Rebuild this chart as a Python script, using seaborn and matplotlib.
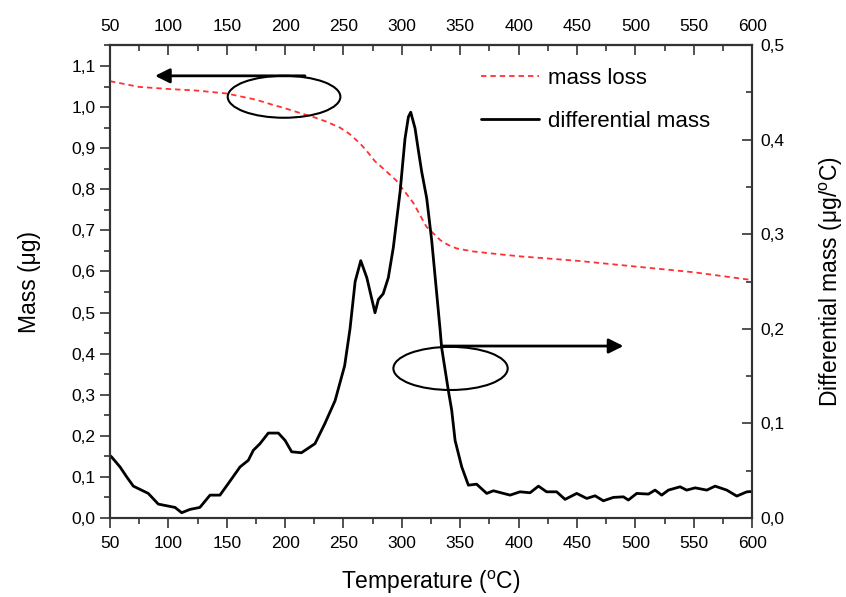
import numpy as np
import pandas as pd
import seaborn as sns
import matplotlib.pyplot as plt
from matplotlib.patches import Ellipse, FancyArrowPatch
from matplotlib.ticker import MultipleLocator, FuncFormatter

sns.set_style('ticks')
plt.rcParams['font.family'] = ['Liberation Sans', 'DejaVu Sans']
plt.rcParams['mathtext.fontset'] = 'custom'
plt.rcParams['mathtext.rm'] = 'Liberation Sans'
plt.rcParams['mathtext.it'] = 'Liberation Sans'
plt.rcParams['text.color'] = 'black'
plt.rcParams['axes.labelcolor'] = 'black'
plt.rcParams['xtick.color'] = 'black'
plt.rcParams['ytick.color'] = 'black'

# mass loss curve (left axis)
t_mass = [50, 75, 100, 125, 150, 175, 190, 200, 210, 224, 235, 247, 255, 264, 270,
          277, 285, 295, 305, 310, 321, 333, 340, 347, 360, 376, 400, 450, 500, 550, 600]
mass = [1.063, 1.049, 1.044, 1.040, 1.033, 1.018, 1.005, 0.997, 0.988, 0.976, 0.965,
        0.950, 0.935, 0.912, 0.893, 0.868, 0.848, 0.822, 0.785, 0.766, 0.709, 0.676,
        0.664, 0.656, 0.649, 0.644, 0.637, 0.626, 0.612, 0.598, 0.579]

# differential mass curve (right axis)
t_diff = [50, 51.4, 58.6, 64.3, 70, 77, 82.8, 91.4, 100, 105.7, 111.4, 118.5, 127,
          135.7, 144.2, 152.8, 161.4, 168.5, 172.8, 178.5, 185.6, 194.2, 200, 205.6,
          214, 225.6, 234, 242.8, 251, 255.6, 260, 264.8, 270, 277, 279.9, 284, 288.4,
          292.7, 298.5, 302.7, 305.6, 307.6, 311.3, 314.1, 317, 321.3, 325.6, 332.7,
          334.1, 339.8, 342.7, 345.6, 351.3, 357, 364, 372.7, 378.4, 392.7, 401.2,
          409.8, 417, 424, 432.6, 439.8, 449.8, 458.4, 465.5, 472.6, 481.2, 489.8,
          494, 501.2, 511.2, 516.9, 522.6, 528.3, 538.3, 544, 551.2, 561.2, 568.3,
          578.3, 586.9, 595.5, 600]
diff = [0.066, 0.0645, 0.054, 0.0435, 0.0337, 0.0295, 0.026, 0.0147, 0.0126, 0.0112,
        0.0056, 0.0091, 0.0112, 0.0242, 0.0242, 0.039, 0.054, 0.061, 0.0716, 0.0786,
        0.0898, 0.0898, 0.082, 0.070, 0.069, 0.0786, 0.0997, 0.124, 0.161, 0.200,
        0.250, 0.272, 0.254, 0.217, 0.231, 0.237, 0.254, 0.286, 0.345, 0.401, 0.424,
        0.429, 0.412, 0.389, 0.366, 0.338, 0.293, 0.200, 0.180, 0.135, 0.114, 0.082,
        0.054, 0.0347, 0.0358, 0.026, 0.0288, 0.0242, 0.0277, 0.0267, 0.0337, 0.0277,
        0.0277, 0.0197, 0.026, 0.0207, 0.0235, 0.0182, 0.0218, 0.0224, 0.019, 0.026,
        0.0253, 0.0295, 0.0242, 0.0295, 0.033, 0.0295, 0.0319, 0.0295, 0.0337,
        0.0295, 0.0232, 0.0277, 0.028]

x_ticks = list(range(50, 601, 50))
left_ticks = [round(0.1 * i, 1) for i in range(12)]
right_ticks = [0.0, 0.1, 0.2, 0.3, 0.4, 0.5]

df_mass = pd.DataFrame({'T': t_mass, 'm': mass})
df_diff = pd.DataFrame({'T': t_diff, 'd': diff})

fig = plt.figure(figsize=(8.46, 5.97), dpi=100)
ax = fig.add_axes([0.130, 0.1323, 0.759, 0.7923])
ax2 = ax.twinx()

sns.lineplot(data=df_mass, x='T', y='m', ax=ax, color='#ff3030', linewidth=1.3,
             label='mass loss', legend=False, estimator=None, sort=False)
ax.lines[-1].set_dashes([3, 2.2])
sns.lineplot(data=df_diff, x='T', y='d', ax=ax2, color='black', linewidth=2,
             label='differential mass', legend=False, estimator=None, sort=False)

comma = FuncFormatter(lambda v, p: f'{v:.1f}'.replace('.', ','))

ax.set_xlim(50, 600)
ax.set_ylim(0, 1.151)
ax2.set_ylim(0, 0.5)
ax.set_xticks(x_ticks)
ax.xaxis.set_minor_locator(MultipleLocator(25))
ax.set_yticks(left_ticks)
ax.yaxis.set_minor_locator(MultipleLocator(0.05))
ax.yaxis.set_major_formatter(comma)
ax2.set_yticks(right_ticks)
ax2.yaxis.set_minor_locator(MultipleLocator(0.05))
ax2.yaxis.set_major_formatter(comma)

tick_col = '#333333'
ax.tick_params(axis='both', which='major', direction='out', length=7, width=1.2,
               labelsize=12.5, color=tick_col)
ax.tick_params(axis='x', which='major', pad=6)
ax.tick_params(axis='both', which='minor', direction='out', length=4, width=1.2,
               color=tick_col)
ax2.tick_params(axis='y', which='major', direction='in', length=7, width=1.2,
                labelsize=12.5, color=tick_col, pad=6)
ax2.tick_params(axis='y', which='minor', direction='in', length=4, width=1.2,
                color=tick_col)

top = ax.secondary_xaxis('top')
top.set_xticks(x_ticks)
top.xaxis.set_minor_locator(MultipleLocator(25))
top.tick_params(which='major', direction='in', length=7, width=1.2, labelsize=12.5,
                color=tick_col, pad=8)
top.tick_params(which='minor', direction='in', length=4, width=1.2, color=tick_col)

for a in (ax, ax2):
    for s in a.spines.values():
        s.set_visible(True)
        s.set_linewidth(1.5)
        s.set_color(tick_col)
top.spines['top'].set_linewidth(1.5)
top.spines['top'].set_color(tick_col)

ax.set_xlabel('Temperature ($^{\\rm o}$C)', fontsize=16.5, labelpad=13)
ax.set_ylabel('Mass (\u03bcg)', fontsize=16.5, labelpad=22)
ax2.set_ylabel('Differential mass (\u03bcg/$^{\\rm o}$C)', fontsize=16.5, labelpad=24,
               rotation=90)

# annotations: ellipses and arrows (right axis scaled from left-axis values)
k = 0.5 / 1.151
ax2.add_patch(Ellipse((199.1, 1.025 * k), 96.5, 0.102 * k,
                      fill=False, edgecolor='black', linewidth=1.5, zorder=5))
ax2.add_patch(Ellipse((341.7, 0.364 * k), 97.9, 0.105 * k,
                      fill=False, edgecolor='black', linewidth=1.5, zorder=5))
ax2.add_patch(FancyArrowPatch((217, 1.076 * k), (88.6, 1.076 * k),
                              arrowstyle='-|>', mutation_scale=22, linewidth=2,
                              color='black', shrinkA=0, shrinkB=0, zorder=5))
ax2.add_patch(FancyArrowPatch((334.2, 0.4185 * k), (489.8, 0.4185 * k),
                              arrowstyle='-|>', mutation_scale=22, linewidth=2,
                              color='black', shrinkA=0, shrinkB=0, zorder=5))

handles = ax.lines[:1] + ax2.lines[:1]
ax2.legend(handles, ['mass loss', 'differential mass'], loc='upper left',
           bbox_to_anchor=(0.545, 0.92), bbox_transform=fig.transFigure,
           frameon=False, fontsize=16, handlelength=2.6, handletextpad=0.4,
           labelspacing=1.0)

fig.savefig('out.png', dpi=100)
